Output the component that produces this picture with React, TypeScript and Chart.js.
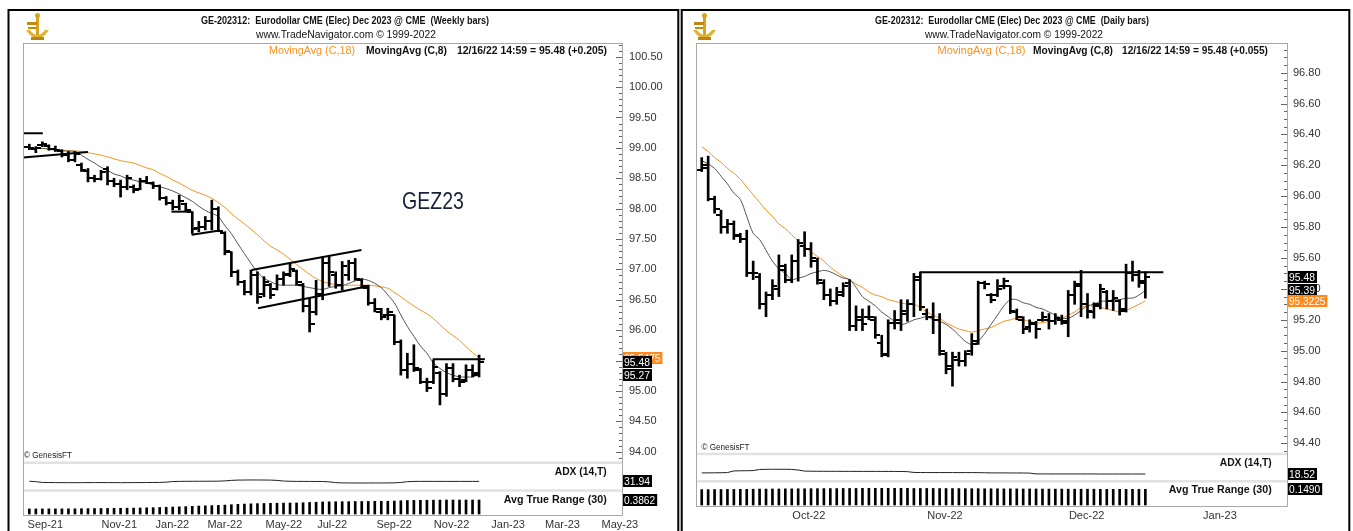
import React, { useEffect, useRef } from "react";
import { Chart, registerables } from "chart.js";

Chart.register(...registerables);

const NARROW = "'Liberation Sans Narrow', 'Arial Narrow', 'Liberation Sans', Arial, sans-serif";
const SANS = "'Liberation Sans', Arial, sans-serif";
const ORANGE = "#f7931e";

// ---------------- Weekly (left panel) ----------------
const weeklyHigh = [99.06, 99.02, 99.10, 99.05, 99.03, 98.97, 98.94, 98.94, 98.75, 98.66,
  98.55, 98.63, 98.69, 98.50, 98.47, 98.55, 98.39, 98.50, 98.53, 98.44,
  98.39, 98.20, 98.14, 98.22, 98.09, 97.95, 97.79, 97.87, 98.14, 98.03,
  97.62, 97.29, 96.99, 96.82, 96.99, 96.96, 96.88, 96.77, 96.91, 96.96,
  97.10, 96.99, 96.77, 96.52, 96.82, 97.21, 97.21, 96.96, 97.13, 97.15,
  97.18, 96.85, 96.74, 96.52, 96.36, 96.36, 96.25, 95.84, 95.62, 95.76,
  95.37, 95.21, 95.51, 95.32, 95.45, 95.45, 95.26, 95.43, 95.43, 95.59];
const weeklyLow = [98.97, 98.92, 99.02, 98.96, 98.94, 98.85, 98.77, 98.77, 98.61, 98.44,
  98.44, 98.47, 98.39, 98.36, 98.19, 98.31, 98.26, 98.31, 98.41, 98.33,
  98.14, 98.06, 97.98, 97.98, 97.95, 97.59, 97.62, 97.65, 97.65, 97.62,
  97.24, 96.88, 96.74, 96.58, 96.58, 96.44, 96.55, 96.52, 96.66, 96.74,
  96.88, 96.74, 96.30, 95.97, 96.25, 96.50, 96.72, 96.69, 96.66, 96.82,
  96.82, 96.69, 96.41, 96.30, 96.17, 96.17, 95.76, 95.26, 95.21, 95.32,
  95.12, 94.99, 95.12, 94.77, 94.91, 95.15, 95.07, 95.15, 95.23, 95.23];
const weeklyOpen = [99.02, 98.98, 99.04, 99.03, 98.98, 98.95, 98.90, 98.80, 98.72, 98.62,
  98.50, 98.49, 98.65, 98.45, 98.40, 98.35, 98.35, 98.32, 98.45, 98.42,
  98.37, 98.18, 98.10, 98.02, 98.08, 97.95, 97.68, 97.70, 97.80, 98.00,
  97.60, 97.28, 96.95, 96.80, 96.62, 96.90, 96.60, 96.75, 96.68, 96.85,
  96.92, 96.98, 96.75, 96.40, 96.30, 96.60, 97.10, 96.90, 96.75, 96.90,
  97.10, 96.82, 96.70, 96.45, 96.30, 96.25, 96.25, 95.80, 95.35, 95.45,
  95.34, 95.15, 95.15, 95.30, 94.95, 95.38, 95.20, 95.18, 95.35, 95.30];
const weeklyClose = [99.00, 99.00, 99.06, 98.98, 98.96, 98.88, 98.80, 98.90, 98.63, 98.50,
  98.48, 98.60, 98.45, 98.40, 98.35, 98.50, 98.30, 98.45, 98.42, 98.38,
  98.18, 98.10, 98.02, 98.12, 97.98, 97.66, 97.70, 97.80, 98.00, 97.64,
  97.30, 96.95, 96.80, 96.62, 96.90, 96.55, 96.80, 96.58, 96.85, 96.90,
  97.00, 96.80, 96.40, 96.10, 96.60, 97.10, 96.95, 96.75, 97.05, 97.10,
  96.85, 96.72, 96.45, 96.35, 96.22, 96.30, 95.80, 95.35, 95.45, 95.38,
  95.15, 95.05, 95.40, 94.95, 95.38, 95.20, 95.15, 95.35, 95.27, 95.48];
const weeklyMA18 = [99.00, 98.99, 98.99, 98.98, 98.97, 98.96, 98.95, 98.95, 98.94, 98.92,
  98.90, 98.88, 98.85, 98.82, 98.79, 98.77, 98.75, 98.71, 98.67, 98.64,
  98.58, 98.53, 98.47, 98.42, 98.36, 98.30, 98.26, 98.22, 98.17, 98.10,
  98.02, 97.92, 97.83, 97.75, 97.66, 97.57, 97.47, 97.38, 97.32, 97.25,
  97.17, 97.08, 97.00, 96.92, 96.85, 96.80, 96.77, 96.75, 96.74, 96.74,
  96.74, 96.74, 96.74, 96.73, 96.71, 96.69, 96.62, 96.55, 96.47, 96.40,
  96.33, 96.27, 96.19, 96.09, 95.99, 95.91, 95.83, 95.73, 95.63, 95.5475];
const weeklyMA8 = [99.00, 98.99, 98.99, 98.98, 98.96, 98.95, 98.95, 98.94, 98.88, 98.81,
  98.75, 98.68, 98.63, 98.57, 98.54, 98.49, 98.47, 98.44, 98.42, 98.39,
  98.36, 98.33, 98.29, 98.24, 98.18, 98.12, 98.04, 97.97, 97.92, 97.87,
  97.72, 97.59, 97.42, 97.26, 97.10, 96.96, 96.85, 96.80, 96.75, 96.74,
  96.74, 96.74, 96.72, 96.70, 96.68, 96.67, 96.70, 96.72, 96.73, 96.77,
  96.81, 96.84, 96.82, 96.77, 96.70, 96.58, 96.45, 96.25, 96.06, 95.90,
  95.74, 95.62, 95.46, 95.37, 95.30, 95.26, 95.23, 95.23, 95.23, 95.27];
const weeklyADX = [32.5, 31.0, 28.6, 28.3, 28.1, 28.0, 27.9, 27.9, 28.0, 28.1,
  28.2, 28.2, 28.1, 28.0, 27.9, 28.0, 28.1, 28.2, 28.3, 28.4,
  28.6, 29.5, 31.5, 32.0, 32.1, 32.2, 32.3, 32.3, 32.4, 32.6,
  33.5, 35.0, 36.0, 36.2, 36.3, 36.3, 36.2, 36.0, 35.0, 33.0,
  32.2, 32.0, 31.9, 31.8, 31.7, 31.5, 30.5, 28.0, 27.2, 27.0,
  26.9, 26.9, 26.9, 27.0, 27.0, 27.1, 27.3, 28.5, 31.0, 31.8,
  32.0, 32.0, 32.0, 31.9, 31.9, 31.9, 31.9, 31.9, 31.9, 31.94];
const weeklyATR = [0.140, 0.140, 0.140, 0.141, 0.141, 0.142, 0.143, 0.144, 0.146, 0.148,
  0.150, 0.152, 0.154, 0.156, 0.158, 0.160, 0.163, 0.166, 0.170, 0.175,
  0.180, 0.186, 0.192, 0.198, 0.204, 0.212, 0.220, 0.226, 0.232, 0.238,
  0.246, 0.256, 0.266, 0.274, 0.280, 0.286, 0.290, 0.294, 0.298, 0.300,
  0.303, 0.305, 0.310, 0.318, 0.324, 0.332, 0.336, 0.338, 0.340, 0.342,
  0.344, 0.345, 0.347, 0.349, 0.351, 0.352, 0.358, 0.366, 0.372, 0.376,
  0.378, 0.380, 0.381, 0.384, 0.386, 0.386, 0.386, 0.386, 0.386, 0.3862];
const weeklyTrendlines = [
  [[-1.0, 99.24], [2.07, 99.24]],
  [[-0.95, 98.84], [9.0, 98.93]],
  [[21.8, 97.95], [24.9, 97.95]],
  [[24.9, 97.57], [29.2, 97.64]],
  [[34.1, 96.99], [50.95, 97.32]],
  [[35.1, 96.36], [51.7, 96.72]],
  [[61.9, 95.52], [69.9, 95.52]],
];
const weeklyTickPos = [2.45, 13.8, 21.95, 30.0, 39.05, 46.46, 55.97, 64.78, 73.46, 81.8, 90.6];
const weeklyTickLabels = ["Sep-21", "Nov-21", "Jan-22", "Mar-22", "May-22", "Jul-22", "Sep-22", "Nov-22", "Jan-23", "Mar-23", "May-23"];
const weeklyPriceTicks = [94.0, 94.5, 95.0, 95.5, 96.0, 96.5, 97.0, 97.5, 98.0, 98.5, 99.0, 99.5, 100.0, 100.5];

// ---------------- Daily (right panel) ----------------
const dailyHigh = [96.25, 96.26, 96.00, 95.91, 95.85, 95.84, 95.76, 95.78, 95.58, 95.50,
  95.38, 95.46, 95.62, 95.56, 95.62, 95.72, 95.77, 95.70, 95.60, 95.46,
  95.40, 95.41, 95.44, 95.46, 95.29, 95.27, 95.29, 95.22, 95.10, 95.20,
  95.26, 95.33, 95.33, 95.50, 95.51, 95.27, 95.31, 95.24, 94.99, 94.99,
  94.99, 95.00, 95.11, 95.45, 95.45, 95.37, 95.46, 95.47, 95.42, 95.27,
  95.22, 95.20, 95.19, 95.25, 95.24, 95.24, 95.23, 95.39, 95.45, 95.52,
  95.37, 95.31, 95.43, 95.39, 95.39, 95.33, 95.56, 95.58, 95.52, 95.51];
const dailyLow = [96.16, 95.97, 95.89, 95.76, 95.76, 95.72, 95.70, 95.48, 95.46, 95.27,
  95.22, 95.33, 95.35, 95.44, 95.44, 95.45, 95.61, 95.54, 95.43, 95.33,
  95.29, 95.30, 95.35, 95.13, 95.13, 95.13, 95.20, 95.08, 94.96, 94.96,
  95.14, 95.13, 95.19, 95.22, 95.26, 95.20, 95.11, 94.97, 94.85, 94.77,
  94.90, 94.90, 94.97, 95.04, 95.40, 95.31, 95.35, 95.40, 95.24, 95.20,
  95.11, 95.12, 95.08, 95.19, 95.14, 95.17, 95.17, 95.09, 95.30, 95.22,
  95.21, 95.21, 95.27, 95.27, 95.26, 95.23, 95.25, 95.45, 95.41, 95.34];
const dailyOpen = [96.17, 96.20, 95.98, 95.88, 95.80, 95.82, 95.74, 95.72, 95.50, 95.48,
  95.30, 95.36, 95.40, 95.52, 95.46, 95.58, 95.68, 95.66, 95.58, 95.44,
  95.36, 95.32, 95.38, 95.44, 95.16, 95.20, 95.22, 95.20, 95.05, 94.98,
  95.18, 95.18, 95.24, 95.30, 95.48, 95.24, 95.22, 95.20, 94.98, 94.90,
  94.94, 94.93, 95.00, 95.06, 95.44, 95.36, 95.36, 95.42, 95.42, 95.25,
  95.20, 95.15, 95.17, 95.20, 95.20, 95.19, 95.20, 95.18, 95.36, 95.43,
  95.30, 95.25, 95.30, 95.38, 95.32, 95.32, 95.27, 95.50, 95.49, 95.44];
const dailyClose = [96.18, 95.98, 95.92, 95.80, 95.82, 95.75, 95.72, 95.50, 95.50, 95.30,
  95.36, 95.42, 95.55, 95.46, 95.58, 95.70, 95.66, 95.60, 95.46, 95.36,
  95.32, 95.36, 95.42, 95.16, 95.22, 95.17, 95.22, 95.10, 94.97, 95.18,
  95.20, 95.26, 95.30, 95.46, 95.28, 95.22, 95.20, 95.00, 94.88, 94.96,
  94.93, 94.98, 95.04, 95.44, 95.43, 95.33, 95.40, 95.45, 95.26, 95.22,
  95.14, 95.18, 95.14, 95.22, 95.19, 95.21, 95.19, 95.36, 95.42, 95.30,
  95.26, 95.29, 95.40, 95.32, 95.34, 95.26, 95.50, 95.49, 95.45, 95.48];
const dailyMA18 = [96.32, 96.29, 96.25, 96.22, 96.18, 96.15, 96.11, 96.06, 96.01, 95.96,
  95.91, 95.87, 95.82, 95.79, 95.75, 95.71, 95.67, 95.64, 95.61, 95.58,
  95.54, 95.51, 95.48, 95.46, 95.43, 95.41, 95.38, 95.36, 95.35, 95.33,
  95.32, 95.31, 95.30, 95.30, 95.28, 95.25, 95.23, 95.21, 95.18, 95.16,
  95.14, 95.13, 95.12, 95.13, 95.14, 95.15, 95.17, 95.19, 95.20, 95.21,
  95.20, 95.19, 95.18, 95.18, 95.19, 95.20, 95.21, 95.23, 95.25, 95.28,
  95.29, 95.29, 95.28, 95.27, 95.26, 95.25, 95.26, 95.28, 95.30, 95.3225];
const dailyMA8 = [96.23, 96.21, 96.18, 96.13, 96.08, 96.02, 95.98, 95.87, 95.76, 95.72,
  95.65, 95.58, 95.53, 95.50, 95.46, 95.47, 95.48, 95.50, 95.51, 95.52,
  95.51, 95.49, 95.47, 95.46, 95.41, 95.35, 95.32, 95.29, 95.25, 95.22,
  95.19, 95.17, 95.18, 95.20, 95.21, 95.22, 95.20, 95.19, 95.17, 95.14,
  95.10, 95.06, 95.04, 95.06, 95.11, 95.17, 95.23, 95.29, 95.33, 95.33,
  95.31, 95.30, 95.28, 95.27, 95.25, 95.23, 95.21, 95.21, 95.23, 95.26,
  95.29, 95.30, 95.32, 95.32, 95.33, 95.33, 95.34, 95.34, 95.36, 95.39];
const dailyADX = [21.5, 21.6, 21.8, 22.0, 22.5, 27.0, 27.4, 27.5, 28.0, 31.0,
  31.5, 31.6, 31.6, 31.5, 31.2, 29.5, 26.5, 26.2, 26.0, 26.0,
  25.9, 25.9, 25.8, 25.8, 25.8, 25.7, 25.7, 25.7, 25.6, 25.6,
  25.6, 25.5, 25.0, 22.8, 22.6, 22.5, 22.5, 22.5, 22.5, 22.4,
  22.4, 22.4, 22.4, 22.3, 22.0, 21.6, 21.5, 21.5, 21.4, 21.4,
  21.3, 21.0, 18.8, 18.7, 18.7, 18.6, 18.6, 18.6, 18.6, 18.6,
  18.6, 18.6, 18.5, 18.5, 18.5, 18.5, 18.5, 18.5, 18.5, 18.52];
const dailyATR = [0.146, 0.146, 0.147, 0.147, 0.148, 0.148, 0.149, 0.149, 0.150, 0.151,
  0.151, 0.152, 0.152, 0.153, 0.153, 0.154, 0.154, 0.155, 0.155, 0.156,
  0.156, 0.156, 0.157, 0.157, 0.157, 0.158, 0.158, 0.158, 0.158, 0.158,
  0.158, 0.158, 0.158, 0.157, 0.157, 0.157, 0.157, 0.156, 0.156, 0.156,
  0.156, 0.155, 0.155, 0.155, 0.154, 0.154, 0.154, 0.153, 0.153, 0.153,
  0.152, 0.152, 0.152, 0.151, 0.151, 0.151, 0.151, 0.150, 0.150, 0.150,
  0.150, 0.150, 0.149, 0.149, 0.149, 0.149, 0.149, 0.149, 0.149, 0.1490];
const dailyTrendlines = [
  [[33.97, 95.507], [71.8, 95.507]],
];
const dailyTickPos = [16.66, 37.83, 59.87, 80.6];
const dailyTickLabels = ["Oct-22", "Nov-22", "Dec-22", "Jan-23"];
const dailyPriceTicks = [94.4, 94.6, 94.8, 95.0, 95.2, 95.4, 95.6, 95.8, 96.0, 96.2, 96.4, 96.6, 96.8];

// ---------------- Panel specs (layout in page pixels) ----------------
type Spec = {
  originX: number; width: number;
  high: number[]; low: number[]; open: number[]; close: number[];
  ma18: number[]; ma8: number[]; adx: number[]; atr: number[];
  trend: number[][][]; tickPos: number[]; tickLabels: string[]; priceTicks: number[];
  xMin: number; xMax: number;
  area: { left: number; right: number; top: number; bottom: number };
  price: { lo: number; hi: number; pxLo: number; pxHi: number; minorStep: number; minorLo: number; minorHi: number };
  adxMap: { pxZero: number; pxHundred: number };
  atrMap: { pxZero: number; ref: number; pxRef: number };
  bands: number[];
  xLabelPad: number; yLabelPad: number;
  frame: { left: number; right: number; top: number };
  title: string; titleX: number; titleW: number; wwwX: number; wwwW: number;
  legend: { text: string; x: number; w: number; color: string; bold: boolean }[];
  genesis: { x: number; y: number };
  adxLabel: { right: number; y: number }; atrLabel: { right: number; y: number };
  logo: { x: number; y: number };
  symbol?: { text: string; x: number; y: number; w: number };
  orangeOnTop: boolean;
};

const leftSpec: Spec = {
  originX: 0, width: 680,
  high: weeklyHigh, low: weeklyLow, open: weeklyOpen, close: weeklyClose,
  ma18: weeklyMA18, ma8: weeklyMA8, adx: weeklyADX, atr: weeklyATR,
  trend: weeklyTrendlines, tickPos: weeklyTickPos, tickLabels: weeklyTickLabels, priceTicks: weeklyPriceTicks,
  xMin: -0.97, xMax: 90.93,
  area: { left: 23, right: 622, top: 43, bottom: 515 },
  price: { lo: 94.0, hi: 100.5, pxLo: 451.7, pxHi: 56.7, minorStep: 0.1, minorLo: 93.9, minorHi: 100.7 },
  adxMap: { pxZero: 491.6, pxHundred: 459.6 },
  atrMap: { pxZero: 514, ref: 0.3862, pxRef: 500 },
  bands: [461.5, 489.3],
  xLabelPad: 3, yLabelPad: 7,
  frame: { left: 8.5, right: 678.3, top: 10 },
  title: "GE-202312:  Eurodollar CME (Elec) Dec 2023 @ CME  (Weekly bars)", titleX: 345, titleW: 288,
  wwwX: 346, wwwW: 180,
  legend: [
    { text: "MovingAvg (C,18)", x: 269, w: 86, color: ORANGE, bold: false },
    { text: "MovingAvg (C,8)", x: 366, w: 81, color: "#111", bold: true },
    { text: "12/16/22 14:59 = 95.48 (+0.205)", x: 457, w: 150, color: "#111", bold: true },
  ],
  genesis: { x: 24, y: 455.3 },
  adxLabel: { right: 606.7, y: 471.7 }, atrLabel: { right: 606.7, y: 500 },
  logo: { x: 25, y: 13 },
  symbol: { text: "GEZ23", x: 402, y: 202, w: 62 },
  orangeOnTop: false,
};

const rightSpec: Spec = {
  originX: 680, width: 673,
  high: dailyHigh, low: dailyLow, open: dailyOpen, close: dailyClose,
  ma18: dailyMA18, ma8: dailyMA8, adx: dailyADX, atr: dailyATR,
  trend: dailyTrendlines, tickPos: dailyTickPos, tickLabels: dailyTickLabels, priceTicks: dailyPriceTicks,
  xMin: -0.89, xMax: 91.03,
  area: { left: 696, right: 1287, top: 43, bottom: 506 },
  price: { lo: 94.4, hi: 96.8, pxLo: 443.3, pxHi: 72.7, minorStep: 0.05, minorLo: 94.35, minorHi: 96.95 },
  adxMap: { pxZero: 480.7, pxHundred: 444.5 },
  atrMap: { pxZero: 505, ref: 0.149, pxRef: 489.3 },
  bands: [452.7, 480],
  xLabelPad: 3, yLabelPad: 6,
  frame: { left: 681.7, right: 1349.3, top: 10 },
  title: "GE-202312:  Eurodollar CME (Elec) Dec 2023 @ CME  (Daily bars)", titleX: 1012, titleW: 274,
  wwwX: 1014, wwwW: 178,
  legend: [
    { text: "MovingAvg (C,18)", x: 937.5, w: 88, color: ORANGE, bold: false },
    { text: "MovingAvg (C,8)", x: 1033, w: 80, color: "#111", bold: true },
    { text: "12/16/22 14:59 = 95.48 (+0.055)", x: 1122, w: 146, color: "#111", bold: true },
  ],
  genesis: { x: 701.5, y: 447.3 },
  adxLabel: { right: 1271.7, y: 462.7 }, atrLabel: { right: 1271.7, y: 490 },
  logo: { x: 692, y: 13 },
  orangeOnTop: true,
};

const H = 531;

// range of a scale so that vLo sits at pxLo and vHi at pxHi, across the chart area
function paneRange(vLo: number, vHi: number, pxLo: number, pxHi: number, top: number, bottom: number) {
  const k = (pxLo - pxHi) / (vHi - vLo);
  return { min: vLo - (bottom - pxLo) / k, max: vHi + (pxHi - top) / k };
}

function tickImage(side: "left" | "right") {
  const c = document.createElement("canvas");
  c.width = 10; c.height = 2;
  const g = c.getContext("2d")!;
  g.fillStyle = "#000";
  g.fillRect(side === "left" ? 0 : 5, 0, 5, 2);
  return c;
}

function drawText(ctx: CanvasRenderingContext2D, s: string, x: number, y: number, size: number, opts: { bold?: boolean; color?: string; align?: CanvasTextAlign; maxW?: number; family?: string }) {
  ctx.save();
  ctx.font = `${opts.bold ? "bold " : ""}${size}px ${opts.family || SANS}`;
  ctx.fillStyle = opts.color || "#111";
  ctx.textAlign = opts.align || "left";
  ctx.textBaseline = "middle";
  if (opts.maxW) ctx.fillText(s, x, y, opts.maxW); else ctx.fillText(s, x, y);
  ctx.restore();
}

function drawLogo(ctx: CanvasRenderingContext2D, x: number, y: number) {
  ctx.save();
  ctx.fillStyle = "#d8a320";
  ctx.fillRect(x + 11, y + 1, 3, 23);
  ctx.beginPath(); ctx.arc(x + 12.5, y + 2.5, 2.5, 0, Math.PI * 2); ctx.fill();
  ctx.fillStyle = "#c08a12";
  ctx.fillRect(x + 2, y + 9, 10, 3);
  ctx.fillRect(x + 3, y + 14, 8, 2);
  ctx.fillStyle = "#e2b12e";
  ctx.beginPath();
  ctx.moveTo(x + 1, y + 17);
  ctx.quadraticCurveTo(x + 12.5, y + 34, x + 24, y + 17);
  ctx.lineTo(x + 20, y + 17);
  ctx.quadraticCurveTo(x + 12.5, y + 27, x + 5, y + 17);
  ctx.closePath(); ctx.fill();
  ctx.fillStyle = "#b8860b";
  ctx.fillRect(x + 6, y + 24, 13, 3);
  ctx.restore();
}

function valueBox(ctx: CanvasRenderingContext2D, text: string, x: number, yc: number, bg: string) {
  ctx.save();
  ctx.font = `11px ${NARROW}`;
  const w = ctx.measureText(text).width;
  const drawW = Math.min(w, text.length * 5.2);
  ctx.fillStyle = bg;
  ctx.fillRect(x, Math.round(yc - 6), drawW + 3, 12);
  ctx.fillStyle = "#fff";
  ctx.textBaseline = "middle";
  ctx.textAlign = "left";
  ctx.fillText(text, x + 1, Math.round(yc) + 0.5, drawW);
  ctx.restore();
}

function buildConfig(spec: Spec): any {
  const ox = spec.originX;
  const a = spec.area;
  const pr = paneRange(spec.price.lo, spec.price.hi, spec.price.pxLo, spec.price.pxHi, a.top, a.bottom);
  const adxR = paneRange(0, 100, spec.adxMap.pxZero, spec.adxMap.pxHundred, a.top, a.bottom);
  const atrR = paneRange(0, spec.atrMap.ref, spec.atrMap.pxZero, spec.atrMap.pxRef, a.top, a.bottom);
  const leftImg = tickImage("left");
  const rightImg = tickImage("right");
  const n = spec.close.length;

  const datasets: any[] = [
    {
      type: "line", label: "MA18", data: spec.ma18.map((v, i) => ({ x: i, y: v })),
      borderColor: ORANGE, borderWidth: 1, pointRadius: 0, tension: 0.3, order: 6, yAxisID: "y",
    },
    {
      type: "line", label: "MA8", data: spec.ma8.map((v, i) => ({ x: i, y: v })),
      borderColor: "#555", borderWidth: 1, pointRadius: 0, tension: 0.3, order: 5, yAxisID: "y",
    },
    {
      type: "bar", label: "HL", data: spec.high.map((h, i) => ({ x: i, y: [spec.low[i], h] })),
      backgroundColor: "#000", borderWidth: 0, barThickness: 2, grouped: false, order: 3, yAxisID: "y",
    },
    {
      type: "scatter", label: "Open", data: spec.open.map((v, i) => ({ x: i, y: v })),
      pointStyle: leftImg, pointRadius: 3, order: 2, yAxisID: "y",
    },
    {
      type: "scatter", label: "Close", data: spec.close.map((v, i) => ({ x: i, y: v })),
      pointStyle: rightImg, pointRadius: 3, order: 2, yAxisID: "y",
    },
    ...spec.trend.map((seg, k) => ({
      type: "line", label: "trend" + k, data: seg.map(([x, y]) => ({ x, y })),
      borderColor: "#000", borderWidth: 2, pointRadius: 0, order: 1, yAxisID: "y",
    })),
    {
      type: "line", label: "ADX", data: spec.adx.map((v, i) => ({ x: i, y: v })),
      borderColor: "#222", borderWidth: 1, pointRadius: 0, order: 4, yAxisID: "yAdx",
    },
    {
      type: "bar", label: "ATR", data: spec.atr.map((v, i) => ({ x: i, y: v })),
      backgroundColor: "#000", borderWidth: 0, barThickness: 2, grouped: false, order: 4, yAxisID: "yAtr",
    },
  ];

  const decor = {
    id: "decor" + ox,
    beforeDraw(chart: any) {
      const ctx = chart.ctx as CanvasRenderingContext2D;
      ctx.save();
      ctx.fillStyle = "#fff";
      ctx.fillRect(0, 0, chart.width, chart.height);
      ctx.restore();
    },
    afterDraw(chart: any) {
      const ctx = chart.ctx as CanvasRenderingContext2D;
      const ca = chart.chartArea;
      const ys = chart.scales.y;
      ctx.save();
      ctx.translate(-ox, 0);
      const L = ca.left + ox, R = ca.right + ox, T = ca.top, B = ca.bottom;
      // pane separators
      ctx.fillStyle = "#e2e2e2";
      for (const b of spec.bands) ctx.fillRect(L, b, R - L, 2.5);
      // plot border
      ctx.strokeStyle = "#a8a8a8";
      ctx.lineWidth = 1;
      ctx.beginPath();
      ctx.moveTo(L + 0.5, T + 0.5); ctx.lineTo(R + 0.5, T + 0.5);
      ctx.moveTo(L + 0.5, T); ctx.lineTo(L + 0.5, B);
      ctx.moveTo(R + 0.5, T); ctx.lineTo(R + 0.5, B + 0.5);
      ctx.moveTo(L, B + 0.5); ctx.lineTo(R + 0.5, B + 0.5);
      ctx.stroke();
      // minor/major ticks on price axis
      ctx.strokeStyle = "#666";
      ctx.beginPath();
      const step = spec.price.minorStep;
      const k0 = Math.ceil(spec.price.minorLo / step - 1e-6), k1 = Math.floor(spec.price.minorHi / step + 1e-6);
      for (let k = k0; k <= k1; k++) {
        const v = k * step;
        const py = Math.round(ys.getPixelForValue(v)) + 0.5;
        if (py < T || py > spec.bands[0]) continue;
        const major = spec.priceTicks.some((t) => Math.abs(t - v) < 1e-6);
        ctx.moveTo(R - (major ? 6 : 3), py); ctx.lineTo(R, py);
      }
      ctx.stroke();
      // black frame
      ctx.strokeStyle = "#000";
      ctx.lineWidth = 2;
      ctx.beginPath();
      ctx.moveTo(spec.frame.left, H + 5);
      ctx.lineTo(spec.frame.left, spec.frame.top);
      ctx.lineTo(spec.frame.right, spec.frame.top);
      ctx.lineTo(spec.frame.right, H + 5);
      ctx.stroke();
      // texts
      drawText(ctx, spec.title, spec.titleX, 21.7, 10, { bold: true, align: "center", maxW: spec.titleW });
      drawText(ctx, "www.TradeNavigator.com \u00a9 1999-2022", spec.wwwX, 35.3, 10.5, { align: "center", maxW: spec.wwwW });
      for (const it of spec.legend) drawText(ctx, it.text, it.x, 50.7, 11.5, { bold: it.bold, color: it.color, maxW: it.w });
      drawText(ctx, "\u00a9 GenesisFT", spec.genesis.x, spec.genesis.y, 8.5, { maxW: 48, color: "#222" });
      drawText(ctx, "ADX (14,T)", spec.adxLabel.right, spec.adxLabel.y, 11.5, { bold: true, align: "right", maxW: 52 });
      drawText(ctx, "Avg True Range (30)", spec.atrLabel.right, spec.atrLabel.y, 11.5, { bold: true, align: "right", maxW: 103 });
      if (spec.symbol) drawText(ctx, spec.symbol.text, spec.symbol.x, spec.symbol.y, 24, { color: "#172238", maxW: spec.symbol.w });
      drawLogo(ctx, spec.logo.x, spec.logo.y);
      // value boxes
      const bx = R + 1;
      const last = n - 1;
      const yClose = ys.getPixelForValue(spec.close[last]);
      let yMa8 = ys.getPixelForValue(spec.ma8[last]);
      if (yMa8 < yClose + 12) yMa8 = yClose + 12;
      const yMa18 = ys.getPixelForValue(spec.ma18[last]);
      const ma18Text = spec.ma18[last].toFixed(4);
      if (!spec.orangeOnTop) valueBox(ctx, ma18Text, bx, yMa18, "#ff8a1c");
      valueBox(ctx, spec.close[last].toFixed(2), bx, yClose, "#000");
      valueBox(ctx, spec.ma8[last].toFixed(2), bx, yMa8, "#000");
      if (spec.orangeOnTop) valueBox(ctx, ma18Text, bx, yMa18, "#ff8a1c");
      const yA = chart.scales.yAdx.getPixelForValue(spec.adx[last]);
      let yT = chart.scales.yAtr.getPixelForValue(spec.atr[last]);
      if (yT < yA + 12) yT = yA + 12;
      valueBox(ctx, spec.adx[last].toFixed(2), bx, yA, "#000");
      valueBox(ctx, spec.atr[last].toFixed(4), bx, yT, "#000");
      ctx.restore();
    },
  };

  return {
    type: "line",
    data: { datasets },
    plugins: [decor],
    options: {
      responsive: false,
      animation: false,
      devicePixelRatio: 1,
      events: [],
      layout: { padding: { left: a.left - ox, top: a.top, right: 0, bottom: H - a.bottom - 18 } },
      plugins: { legend: { display: false }, tooltip: { enabled: false } },
      scales: {
        x: {
          type: "linear", min: spec.xMin, max: spec.xMax, offset: false, bounds: "data",
          grid: { display: false, drawTicks: false, tickLength: 0 },
          border: { display: false },
          afterBuildTicks: (s: any) => { s.ticks = spec.tickPos.map((v) => ({ value: v })); },
          afterFit: (s: any) => { s.height = 18; s.paddingLeft = 0; s.paddingRight = 0; },
          ticks: {
            autoSkip: false, maxRotation: 0, minRotation: 0, padding: spec.xLabelPad, color: "#333",
            font: { family: NARROW, size: 11 },
            callback: (_v: any, i: number) => spec.tickLabels[i],
          },
        },
        y: {
          type: "linear", position: "right", min: pr.min, max: pr.max, bounds: "data",
          grid: { display: false, drawTicks: false, tickLength: 0 },
          border: { display: false },
          afterBuildTicks: (s: any) => { s.ticks = spec.priceTicks.map((v) => ({ value: v })); },
          afterFit: (s: any) => { s.width = spec.width - (a.right - ox); s.paddingTop = 0; s.paddingBottom = 0; },
          ticks: {
            autoSkip: false, padding: spec.yLabelPad, color: "#333",
            font: { family: NARROW, size: 11 },
            callback: (v: any) => Number(v).toFixed(2),
          },
        },
        yAdx: { type: "linear", display: false, min: adxR.min, max: adxR.max },
        yAtr: { type: "linear", display: false, min: atrR.min, max: atrR.max },
      },
    },
  };
}

function Panel({ spec }: { spec: Spec }) {
  const ref = useRef<HTMLCanvasElement>(null);
  useEffect(() => {
    const chart = new Chart(ref.current as HTMLCanvasElement, buildConfig(spec));
    return () => chart.destroy();
  }, [spec]);
  return (
    <canvas
      ref={ref}
      width={spec.width}
      height={H}
      style={{ position: "absolute", left: spec.originX, top: 0, width: spec.width, height: H, display: "block" }}
    />
  );
}

export default function App() {
  return (
    <div style={{ position: "absolute", left: 0, top: 0, width: 1353, height: H, background: "#fff", overflow: "hidden" }}>
      <Panel spec={leftSpec} />
      <Panel spec={rightSpec} />
    </div>
  );
}
